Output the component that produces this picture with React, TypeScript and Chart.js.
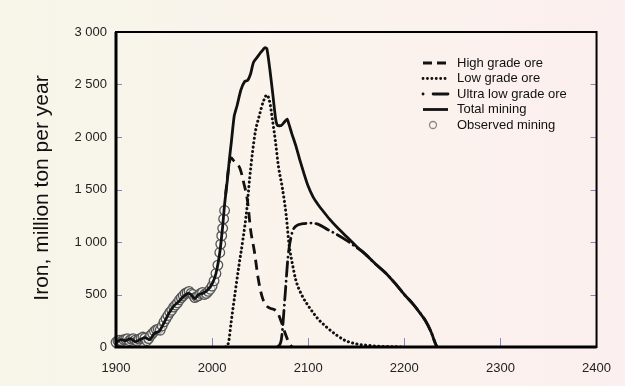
import React, { useEffect, useRef } from 'react';
import { Chart, registerables } from 'chart.js';

Chart.register(...registerables);

const xTickValues = [1900, 2000, 2100, 2200, 2300, 2400];
const yTickValues = [0, 500, 1000, 1500, 2000, 2500, 3000];

const observedYears = [1900, 1902, 1904, 1906, 1908, 1910, 1912, 1914, 1916, 1918, 1920, 1922, 1924, 1926, 1928, 1930, 1932, 1934, 1936, 1938, 1940, 1942, 1944, 1946, 1948, 1950, 1952, 1954, 1956, 1958, 1960, 1962, 1964, 1966, 1968, 1970, 1972, 1974, 1976, 1978, 1980, 1982, 1984, 1986, 1988, 1990, 1992, 1994, 1996, 1998, 2000, 2002, 2004, 2006, 2008, 2009, 2010, 2011, 2012, 2013];
const observedValues = [45, 60, 65, 55, 70, 75, 80, 60, 75, 80, 65, 55, 75, 85, 95, 85, 60, 80, 110, 130, 150, 165, 170, 160, 200, 240, 270, 300, 330, 350, 380, 400, 420, 450, 470, 490, 510, 520, 530, 510, 500, 470, 480, 490, 510, 520, 500, 510, 530, 550, 580, 630, 700, 780, 900, 980, 1060, 1130, 1220, 1300];

const totalYears = [1900, 1905, 1910, 1915, 1920, 1925, 1930, 1935, 1940, 1945, 1950, 1955, 1960, 1965, 1970, 1975, 1978, 1982, 1986, 1990, 1995, 2000, 2004, 2008, 2011, 2013, 2016, 2018, 2020, 2023, 2026, 2030, 2034, 2037, 2040, 2043, 2047, 2051, 2055, 2057, 2060, 2063, 2066, 2068, 2072, 2075, 2078, 2080, 2083, 2087, 2091, 2096, 2100, 2105, 2110, 2115, 2122, 2130, 2140, 2150, 2160, 2170, 2180, 2190, 2200, 2208, 2215, 2222, 2228, 2232, 2234];
const totalValues = [40, 70, 60, 80, 50, 70, 90, 70, 130, 150, 230, 320, 390, 430, 480, 510, 500, 460, 500, 510, 540, 600, 700, 900, 1150, 1360, 1600, 1790, 1950, 2200, 2300, 2450, 2530, 2540, 2600, 2710, 2760, 2810, 2850, 2840, 2650, 2420, 2180, 2110, 2110, 2140, 2170, 2120, 2030, 1920, 1790, 1640, 1530, 1430, 1360, 1300, 1220, 1140, 1050, 960, 880, 790, 710, 610, 500, 420, 340, 250, 140, 40, 0];

const highYears = [2014, 2016, 2018, 2020, 2022, 2025, 2029, 2033, 2037, 2040, 2044, 2048, 2052, 2056, 2060, 2065, 2068, 2072, 2076, 2080, 2083];
const highValues = [1450, 1620, 1760, 1800, 1780, 1750, 1700, 1560, 1380, 1120, 910, 650, 480, 400, 370, 355, 330, 240, 130, 40, 0];

const lowYears = [2014, 2017, 2020, 2024, 2028, 2032, 2036, 2039, 2042, 2045, 2049, 2053, 2057, 2060, 2063, 2066, 2069, 2073, 2077, 2080, 2084, 2087, 2093, 2101, 2110, 2119, 2130, 2139, 2150, 2163, 2180, 2200];
const lowValues = [0, 40, 250, 520, 780, 1020, 1300, 1600, 1850, 2050, 2200, 2330, 2400, 2330, 2150, 1950, 1720, 1520, 1260, 980, 770, 640, 500, 380, 270, 190, 110, 60, 30, 15, 5, 0];

const ultraYears = [2068, 2072, 2076, 2079, 2083, 2087, 2095, 2103, 2110, 2120, 2130, 2139, 2150, 2160, 2170, 2180, 2190, 2200, 2208, 2215, 2222, 2228, 2232, 2234];
const ultraValues = [0, 70, 500, 860, 1080, 1150, 1175, 1180, 1170, 1120, 1070, 1020, 950, 880, 790, 710, 610, 500, 420, 340, 250, 140, 40, 0];

const legendLabels = ['High grade ore', 'Low grade ore', 'Ultra low grade ore', 'Total mining', 'Observed mining'];
const yAxisTitle = 'Iron, million ton per year';

const FONT = '"Liberation Sans", Arial, sans-serif';
const HIGH_DASH = [10, 6];
const LOW_DASH = [0.1, 4.3];
const ULTRA_DASH = [14, 5, 0.1, 5];

function pts(xs: number[], ys: number[]) {
  return xs.map((x, i) => ({ x, y: ys[i] }));
}

function fmt(v: number) {
  if (v >= 1000) {
    const th = Math.floor(v / 1000);
    const rest = String(v % 1000).padStart(3, '0');
    return th + ' ' + rest;
  }
  return String(v);
}

const decorPlugin = {
  id: 'decor',
  afterDatasetsDraw(chart: any) {
    const { ctx, chartArea: a, scales } = chart;
    ctx.save();
    // inner ticks
    ctx.strokeStyle = '#8089bb';
    ctx.lineWidth = 1;
    ctx.setLineDash([]);
    for (const t of xTickValues.slice(1, -1)) {
      const x = Math.round(scales.x.getPixelForValue(t)) + 0.5;
      ctx.beginPath();
      ctx.moveTo(x, a.bottom);
      ctx.lineTo(x, a.bottom - 9);
      ctx.stroke();
    }
    for (const v of yTickValues.slice(1, -1)) {
      const y = Math.round(scales.y.getPixelForValue(v)) + 0.5;
      ctx.beginPath();
      ctx.moveTo(a.left, y);
      ctx.lineTo(a.left + 6, y);
      ctx.moveTo(a.right, y);
      ctx.lineTo(a.right - 6, y);
      ctx.stroke();
    }
    // frame
    ctx.strokeStyle = '#000';
    ctx.lineWidth = 2;
    ctx.strokeRect(a.left, a.top, a.right - a.left, a.bottom - a.top);
    ctx.lineWidth = 3;
    ctx.beginPath();
    ctx.moveTo(a.left, a.top);
    ctx.lineTo(a.left, a.bottom);
    ctx.lineTo(a.right, a.bottom);
    ctx.stroke();

    // legend
    const x0 = 423, x1 = 448, tx = 457;
    const rows = [63, 78.5, 94, 109.5, 125];
    ctx.font = '13px ' + FONT;
    ctx.fillStyle = '#111';
    ctx.textBaseline = 'middle';
    ctx.textAlign = 'left';
    rows.forEach((ry, i) => {
      ctx.save();
      ctx.strokeStyle = '#111';
      ctx.lineWidth = 2.8;
      if (i === 0) ctx.setLineDash([9, 5]);
      if (i === 1) { ctx.setLineDash([0.1, 4.3]); ctx.lineCap = 'round'; }
      if (i === 2) ctx.setLineDash([0.1, 10, 15, 100]);
      if (i === 2) ctx.lineCap = 'round';
      if (i === 3) ctx.setLineDash([]);
      if (i < 4) {
        ctx.beginPath();
        ctx.moveTo(x0, ry);
        ctx.lineTo(x1, ry);
        ctx.stroke();
      } else {
        ctx.setLineDash([]);
        ctx.lineWidth = 1.3;
        ctx.strokeStyle = '#888';
        ctx.beginPath();
        ctx.arc(433, ry, 3.5, 0, Math.PI * 2);
        ctx.stroke();
      }
      ctx.restore();
      ctx.fillText(legendLabels[i], tx, ry);
    });

    // y axis title
    ctx.save();
    ctx.translate(42, 188);
    ctx.rotate(-Math.PI / 2);
    ctx.font = '21px ' + FONT;
    ctx.textAlign = 'center';
    ctx.textBaseline = 'middle';
    ctx.fillStyle = '#111';
    ctx.fillText(yAxisTitle, 0, 0);
    ctx.restore();
    ctx.restore();
  },
};

export default function App() {
  const ref = useRef<HTMLCanvasElement>(null);
  useEffect(() => {
    if (!ref.current) return;
    const chart = new Chart(ref.current, {
      type: 'line',
      data: {
        datasets: [
          {
            label: legendLabels[4],
            data: pts(observedYears, observedValues),
            showLine: false,
            pointRadius: 4.8,
            pointBorderWidth: 1.3,
            pointBorderColor: '#555',
            pointBackgroundColor: 'rgba(255,255,255,0.55)',
            clip: false as any,
            order: 5,
          },
          {
            label: legendLabels[3],
            data: pts(totalYears, totalValues),
            borderColor: '#111',
            borderWidth: 2.8,
            pointRadius: 0,
            tension: 0.2,
            order: 4,
          },
          {
            label: legendLabels[0],
            data: pts(highYears, highValues),
            borderColor: '#111',
            borderWidth: 2.8,
            borderDash: HIGH_DASH,
            pointRadius: 0,
            cubicInterpolationMode: 'monotone',
            order: 3,
          },
          {
            label: legendLabels[1],
            data: pts(lowYears, lowValues),
            borderColor: '#111',
            borderWidth: 3,
            borderDash: LOW_DASH,
            borderCapStyle: 'round',
            pointRadius: 0,
            cubicInterpolationMode: 'monotone',
            order: 2,
          },
          {
            label: legendLabels[2],
            data: pts(ultraYears, ultraValues),
            borderColor: '#111',
            borderWidth: 2.8,
            borderDash: ULTRA_DASH,
            borderCapStyle: 'round',
            pointRadius: 0,
            cubicInterpolationMode: 'monotone',
            order: 1,
          },
        ],
      },
      options: {
        responsive: false,
        animation: false,
        events: [],
        layout: { padding: { top: 32, right: 27, left: 0, bottom: 0 } },
        plugins: { legend: { display: false }, tooltip: { enabled: false } },
        scales: {
          x: {
            type: 'linear',
            min: 1900,
            max: 2400,
            afterBuildTicks: (s: any) => { s.ticks = xTickValues.map((v) => ({ value: v })); },
            afterFit: (s: any) => { s.height = 39; },
            ticks: { font: { family: FONT, size: 13 }, color: '#222', padding: 14, maxRotation: 0, callback: (v: any) => String(v) },
            grid: { display: false, drawTicks: false },
            border: { display: false },
          },
          y: {
            min: 0,
            max: 3000,
            afterBuildTicks: (s: any) => { s.ticks = yTickValues.map((v) => ({ value: v })); },
            afterFit: (s: any) => { s.width = 116; },
            ticks: { font: { family: FONT, size: 13 }, color: '#222', padding: 9, callback: (v: any) => fmt(Number(v)) },
            grid: { display: false, drawTicks: false },
            border: { display: false },
          },
        },
      },
      plugins: [decorPlugin],
    });
    return () => chart.destroy();
  }, []);
  return (
    <div
      style={{
        position: 'fixed',
        left: 0,
        top: 0,
        width: 625,
        height: 386,
        background: 'linear-gradient(90deg, #f7f6e9 0%, #faf3ec 50%, #fcefef 100%)',
      }}
    >
      <canvas ref={ref} width={625} height={386} style={{ display: 'block' }} />
    </div>
  );
}
